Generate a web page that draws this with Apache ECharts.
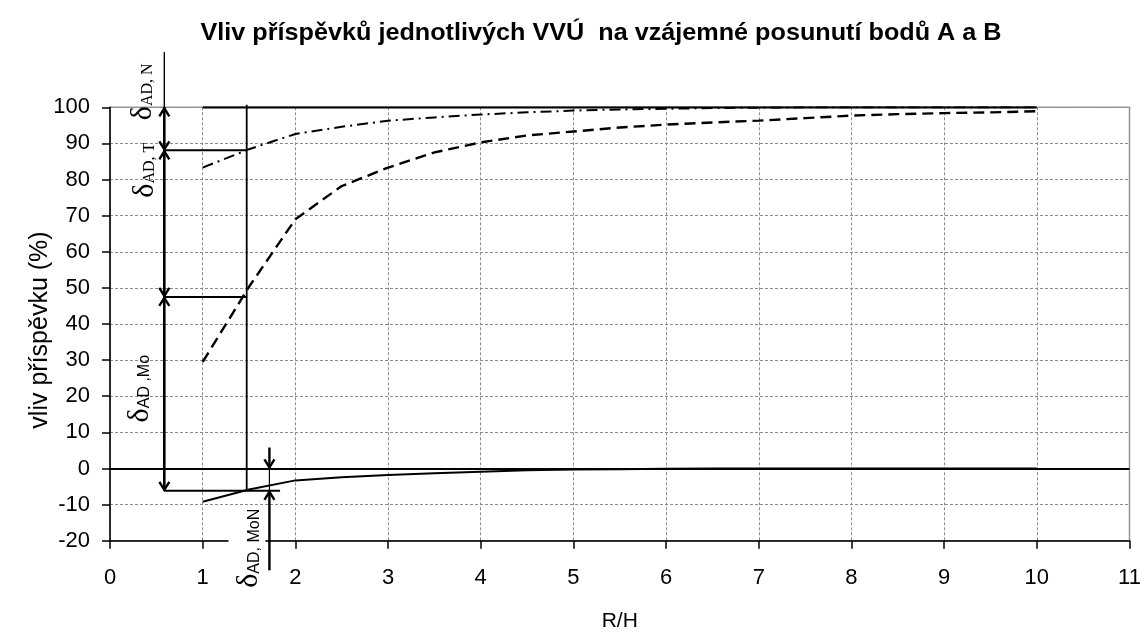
<!DOCTYPE html>
<html>
<head>
<meta charset="utf-8">
<script src="https://cdn.jsdelivr.net/npm/echarts@6/dist/echarts.min.js"></script>
<style>
  html, body { margin: 0; padding: 0; background: #fff; }
  #chart { width: 1145px; height: 632px; }
</style>
</head>
<body>
<div id="chart"></div>
<script>
// R/H – relative distance
const rh = [1, 1.5, 2, 2.5, 3, 3.5, 4, 4.5, 5, 5.5, 6, 6.5, 7, 7.5, 8, 8.5, 9, 9.5, 10];
// cumulative contributions (%)
const podilN   = [100, 100, 100, 100, 100, 100, 100, 100, 100, 100, 100, 100, 100, 100, 100, 100, 100, 100, 100];
const podilT   = [83.3, 88.4, 92.6, 94.6, 96.3, 97.2, 98.0, 98.6, 99.1, 99.4, 99.6, 99.8, 99.9, 100, 100, 100, 100, 100, 100];
const podilMo  = [29.5, 50.3, 69.0, 78.2, 83.3, 87.5, 90.3, 92.2, 93.3, 94.4, 95.2, 95.8, 96.3, 97.0, 97.7, 98.1, 98.4, 98.6, 98.9];
const podilMoN = [-9.2, -5.8, -3.3, -2.4, -1.8, -1.3, -0.9, -0.5, -0.3, -0.2, -0.1, 0, 0, 0, 0, 0, 0, 0, 0];

// dimension lines (data units)
const kotaX = 0.586;          // R/H of the vertical dimension line
const rezX = 1.475;           // R/H of the section line
const kotaMoNX = 1.72;        // R/H of the small MoN dimension
const urovenN = 100, urovenT = 88.1, urovenMo = 47.5, urovenMoN = -6.2;

const pairs = (ys) => rh.map((x, i) => [x, ys[i]]);
const SANS = '"Liberation Sans", Arial, sans-serif';
const SERIF = '"Liberation Serif", "Times New Roman", serif';

const chart = echarts.init(document.getElementById('chart'), null, { renderer: 'canvas' });

chart.setOption({
  animation: false,
  backgroundColor: '#fff',
  grid: {
    left: 110, right: 15.5, top: 107.3, bottom: 91.3,
    containLabel: false, outerBoundsMode: 'none',
    show: true, borderColor: '#999', borderWidth: 1.5, backgroundColor: 'transparent'
  },
  xAxis: {
    type: 'value', min: 0, max: 11, interval: 1,
    name: 'R/H', nameLocation: 'middle', nameGap: 70, nameMoveOverlap: false,
    nameTextStyle: { fontFamily: SANS, fontSize: 21, color: '#000' },
    axisLine: { onZero: false, lineStyle: { color: '#000', width: 1.5 } },
    axisTick: { inside: false, length: 8, lineStyle: { color: '#000', width: 1.5 } },
    axisLabel: { fontFamily: SANS, fontSize: 22, color: '#000', margin: 26 },
    splitLine: { show: true, lineStyle: { color: '#8c8c8c', width: 1, type: [3, 2] } }
  },
  yAxis: {
    type: 'value', min: -20, max: 100, interval: 10,
    name: 'vliv příspěvku (%)', nameLocation: 'middle', nameGap: 57, nameMoveOverlap: false,
    nameTextStyle: { fontFamily: SANS, fontSize: 25, color: '#000', padding: [0, 12, 0, 0] },
    axisLine: { onZero: false, lineStyle: { color: '#000', width: 1.5 } },
    axisTick: { inside: false, length: 8, lineStyle: { color: '#000', width: 1.5 } },
    axisLabel: { fontFamily: SANS, fontSize: 22, color: '#000', margin: 20 },
    splitLine: { show: true, lineStyle: { color: '#8c8c8c', width: 1, type: [3, 2] } }
  },
  series: [
    {
      name: 'N', type: 'line', data: pairs(podilN), symbol: 'none',
      lineStyle: { color: '#000', width: 2.2, type: 'solid' }, z: 3
    },
    {
      name: 'T', type: 'line', data: pairs(podilT), symbol: 'none',
      lineStyle: { color: '#000', width: 2, type: [11, 5, 2, 5] }, z: 3
    },
    {
      name: 'Mo', type: 'line', data: pairs(podilMo), symbol: 'none',
      lineStyle: { color: '#000', width: 2.4, type: [11, 6] }, z: 3
    },
    {
      name: 'MoN', type: 'line', data: pairs(podilMoN), symbol: 'none',
      lineStyle: { color: '#000', width: 2, type: 'solid' }, z: 3,
      markLine: {
        silent: true, symbol: 'none', label: { show: false },
        lineStyle: { color: '#000', width: 2.2, type: 'solid' },
        data: [{ yAxis: 0 }]
      }
    }
  ]
});

// dimension annotations, positioned through the grid's own scales
const px = (x, y) => chart.convertToPixel({ gridIndex: 0 }, [x, y]);

function seg(x1, y1, x2, y2, w) {
  const a = px(x1, y1), b = px(x2, y2);
  return { type: 'line', z: 10, silent: true,
    shape: { x1: a[0], y1: a[1], x2: b[0], y2: b[1] },
    style: { stroke: '#000', lineWidth: w } };
}
function head(x, y, dir) {           // open arrow head, dir = -1 up, +1 down
  const t = px(x, y);
  const tip = [t[0], t[1] + (dir < 0 ? 1 : -1)];
  return { type: 'polyline', z: 11, silent: true,
    shape: { points: [[tip[0] - 5, tip[1] - dir * 8], tip, [tip[0] + 5, tip[1] - dir * 8]] },
    style: { stroke: '#000', lineWidth: 2.4, fill: null } };
}
function label(x, y, sub, subFont, bg) {
  const p = px(x, y);
  return { type: 'text', z: 12, silent: true, x: p[0], y: p[1], rotation: Math.PI / 2,
    style: {
      text: '{d|δ}{s|' + sub + '}', align: 'center', verticalAlign: 'middle',
      backgroundColor: bg || 'transparent', padding: bg ? [6, 2, 1, 2] : 0,
      rich: {
        d: { fontFamily: SERIF, fontSize: 30, fill: '#000', verticalAlign: 'bottom' },
        s: { fontFamily: subFont, fontSize: 16, fill: '#000', verticalAlign: 'bottom', padding: [0, 0, 2, 0] }
      }
    } };
}
function title() {
  return { type: 'text', z: 12, silent: true, x: 601, y: 33, scaleX: 1.05,
    style: { text: 'Vliv příspěvků jednotlivých VVÚ  na vzájemné posunutí bodů A a B',
      font: 'bold 24px ' + SANS, fill: '#000', align: 'center', verticalAlign: 'middle' } };
}

chart.setOption({
  graphic: [
    title(),
    // main vertical dimension line
    seg(kotaX, 115.3, kotaX, urovenN, 1.4),
    seg(kotaX, urovenN, kotaX, urovenMoN, 2.6),
    head(kotaX, urovenN, -1), head(kotaX, urovenT, 1),
    head(kotaX, urovenT, -1), head(kotaX, urovenMo, 1),
    head(kotaX, urovenMo, -1), head(kotaX, urovenMoN, 1),
    // extension lines
    seg(kotaX, urovenT, rezX, urovenT, 2),
    seg(kotaX, urovenMo, rezX, urovenMo, 2),
    seg(kotaX, urovenMoN, 1.835, urovenMoN, 2),
    // section line
    seg(rezX, 100.7, rezX, urovenMoN, 1.8),
    // small MoN dimension
    seg(kotaMoNX, 0, kotaMoNX, urovenMoN, 1.2),
    seg(kotaMoNX, 5.8, kotaMoNX, 0, 2.4), head(kotaMoNX, 0, 1),
    seg(kotaMoNX, -28.2, kotaMoNX, urovenMoN, 2.4), head(kotaMoNX, urovenMoN, -1),
    // labels
    label(0.356, 104.3, 'AD, N', SERIF),
    label(0.378, 82.6, 'AD, T', SERIF),
    label(0.324, 22.1, 'AD ,Mo', SANS),
    label(1.478, -22.1, 'AD, MoN', SANS, '#fff')
  ]
});
</script>
</body>
</html>
